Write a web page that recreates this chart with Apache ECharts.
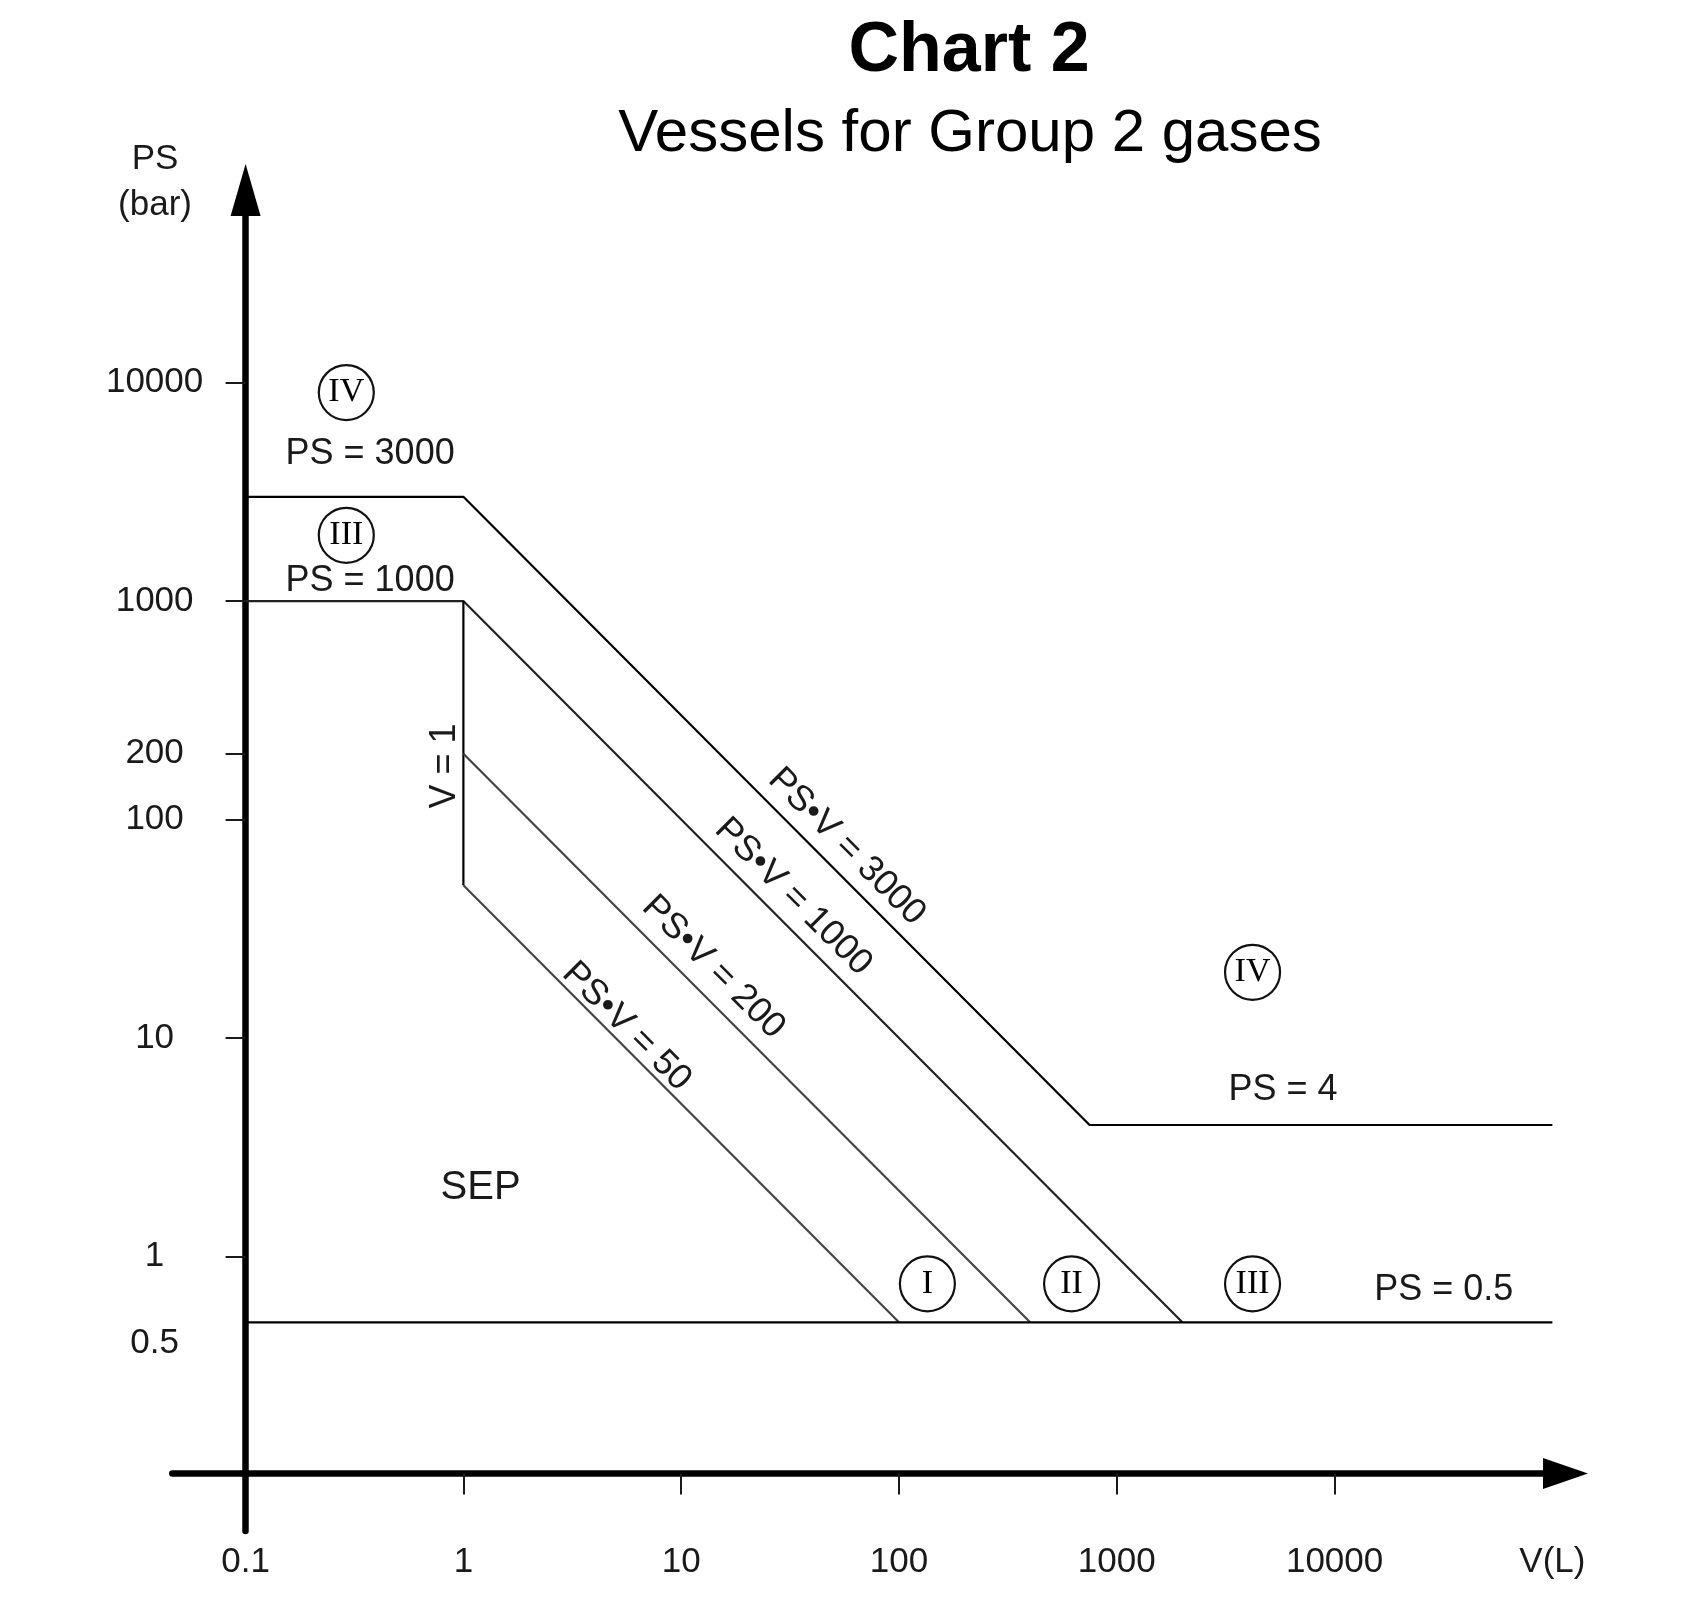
<!DOCTYPE html>
<html>
<head>
<meta charset="utf-8">
<title>Chart 2 - Vessels for Group 2 gases</title>
<script src="https://cdn.jsdelivr.net/npm/echarts@6/dist/echarts.min.js"></script>
<style>
  html, body { margin: 0; padding: 0; background: #fff; }
  #chart { width: 1692px; height: 1617px; }
</style>
</head>
<body>
<div id="chart"></div>
<script>
// tick values and their labels
const xTickValues = [1, 10, 100, 1000, 10000];
const xLabelValues = [0.1, 1, 10, 100, 1000, 10000, 100000];
const xLabelTexts = ['0.1', '1', '10', '100', '1000', '10000', 'V(L)'];
const yTickValues = [10000, 1000, 200, 100, 10, 1];
const yLabelValues = [10000, 1000, 200, 100, 10, 1, 0.5];
const yLabelTexts = ['10000', '1000', '200', '100', '10', '1', '0.5'];

// boundary lines, [V, PS]
const line3000 = [[0.1, 3000], [1, 3000], [750, 4], [100000, 4]];
const line1000 = [[0.1, 1000], [1, 1000], [2000, 0.5]];
const lineV1 = [[1, 1000], [1, 50]];
const line200 = [[1, 200], [400, 0.5]];
const line50 = [[1, 50], [100, 0.5]];
const line05 = [[0.1, 0.5], [100000, 0.5]];

// category circles
const zoneNames = ['IV', 'III', 'IV', 'I', 'II', 'III'];
const zoneV = [0.29, 0.29, 4200, 135, 620, 4200];
const zonePS = [9000, 2000, 20, 0.75, 0.75, 0.75];

// text notes on the chart
const noteTexts = ['PS = 3000', 'PS = 1000', 'PS = 4', 'PS = 0.5', 'SEP', 'V = 1',
  'PS•V = 3000', 'PS•V = 1000', 'PS•V = 200', 'PS•V = 50'];
const noteV = [0.373, 0.373, 5800, 31700, 1.2, 0.823, 57.5, 32.7, 14.05, 5.62];
const notePS = [4730, 1230, 5.75, 0.705, 2.05, 176, 75.1, 44.3, 21.1, 11.3];
const noteAngle = [0, 0, 0, 0, 0, 90, -45, -45, -45, -45];

const FONT = "'Liberation Sans', Arial, sans-serif";
const SERIF = "'Liberation Serif', 'Times New Roman', serif";
const INK = '#1a1a1a';

function pickLabel(values, texts, v) {
    let best = 0;
    values.forEach(function (t, i) {
        if (Math.abs(Math.log10(t) - Math.log10(v)) < Math.abs(Math.log10(values[best]) - Math.log10(v))) best = i;
    });
    return texts[best];
}

function boundary(data, color) {
    return {
        type: 'line',
        data: data,
        showSymbol: false,
        symbol: 'none',
        silent: true,
        lineStyle: { color: color, width: 2.2 },
        z: 3
    };
}

var myChart = echarts.init(document.getElementById('chart'));

let option = {
    backgroundColor: '#fff',
    animation: false,
    graphic: [
        { type: 'text', x: 969, y: 52, style: { text: 'Chart 2', font: 'bold 70px ' + FONT, fill: '#000', align: 'center', verticalAlign: 'middle' } },
        { type: 'text', x: 970, y: 134, style: { text: 'Vessels for Group 2 gases', font: '60px ' + FONT, fill: '#000', align: 'center', verticalAlign: 'middle' } },
        { type: 'text', x: 155, y: 159, style: { text: 'PS', font: '35px ' + FONT, fill: INK, align: 'center', verticalAlign: 'middle' } },
        { type: 'text', x: 155, y: 205, style: { text: '(bar)', font: '35px ' + FONT, fill: INK, align: 'center', verticalAlign: 'middle' } }
    ],
    grid: { left: 172.3, right: 120, top: 180, bottom: 86 },
    xAxis: {
        type: 'log',
        logBase: 10,
        min: Math.pow(10, -1.3365),
        max: Math.pow(10, 5.09),
        offset: -57.5, // sit on PS = 0.1
        axisLine: {
            show: true,
            onZero: false,
            lineStyle: { color: '#000', width: 6.5 },
            symbol: ['none', 'triangle'],
            symbolSize: [31, 45],
            symbolOffset: [0, -6.5]
        },
        axisTick: { show: true, customValues: xTickValues, length: 21, lineStyle: { color: INK, width: 2 } },
        axisLabel: {
            show: true,
            customValues: xLabelValues,
            formatter: function (v) { return pickLabel(xLabelValues, xLabelTexts, v); },
            margin: 89,
            verticalAlign: 'middle',
            fontFamily: FONT,
            fontSize: 35,
            color: INK
        },
        splitLine: { show: false }
    },
    yAxis: {
        type: 'log',
        logBase: 10,
        min: Math.pow(10, -1.256),
        max: Math.pow(10, 4.927),
        offset: -73.3, // sit on V = 0.1
        axisLine: {
            show: true,
            onZero: false,
            lineStyle: { color: '#000', width: 6.5 },
            symbol: ['none', 'triangle'],
            symbolSize: [30, 52],
            symbolOffset: [0, -10]
        },
        axisTick: { show: true, customValues: yTickValues, length: 20, lineStyle: { color: INK, width: 2 } },
        axisLabel: {
            show: true,
            customValues: yLabelValues,
            formatter: function (v) {
                let t = pickLabel(yLabelValues, yLabelTexts, v);
                return t === '0.5' ? '{low|0.5}' : t;
            },
            rich: { low: { padding: [42, 0, 0, 0], fontFamily: FONT, fontSize: 35, color: INK } },
            margin: 91,
            align: 'center',
            fontFamily: FONT,
            fontSize: 35,
            color: INK
        },
        splitLine: { show: false }
    },
    series: [
        boundary(line3000, '#000'),
        boundary(line1000, '#222'),
        boundary(lineV1, '#000'),
        boundary(line200, '#444'),
        boundary(line50, '#444'),
        boundary(line05, '#000'),
        {
            name: 'zones',
            type: 'scatter',
            silent: true,
            symbol: 'circle',
            symbolSize: 55,
            itemStyle: { color: '#fff', borderColor: '#111', borderWidth: 2.2, opacity: 1 },
            label: {
                show: true,
                position: 'inside',
                formatter: '{b}',
                fontFamily: SERIF,
                fontSize: 34,
                color: '#000'
            },
            data: zoneNames.map(function (n, i) { return { name: n, value: [zoneV[i], zonePS[i]] }; }),
            z: 4
        },
        {
            name: 'notes',
            type: 'scatter',
            silent: true,
            symbolSize: 0,
            itemStyle: { opacity: 1 },
            label: {
                show: true,
                position: 'inside',
                formatter: '{b}',
                fontFamily: FONT,
                fontSize: 36,
                color: INK
            },
            data: noteTexts.map(function (n, i) {
                return {
                    name: n,
                    value: [noteV[i], notePS[i]],
                    label: { rotate: noteAngle[i], fontSize: n === 'SEP' ? 40 : 36 }
                };
            }),
            z: 5
        }
    ]
};

myChart.setOption(option);
</script>
</body>
</html>
